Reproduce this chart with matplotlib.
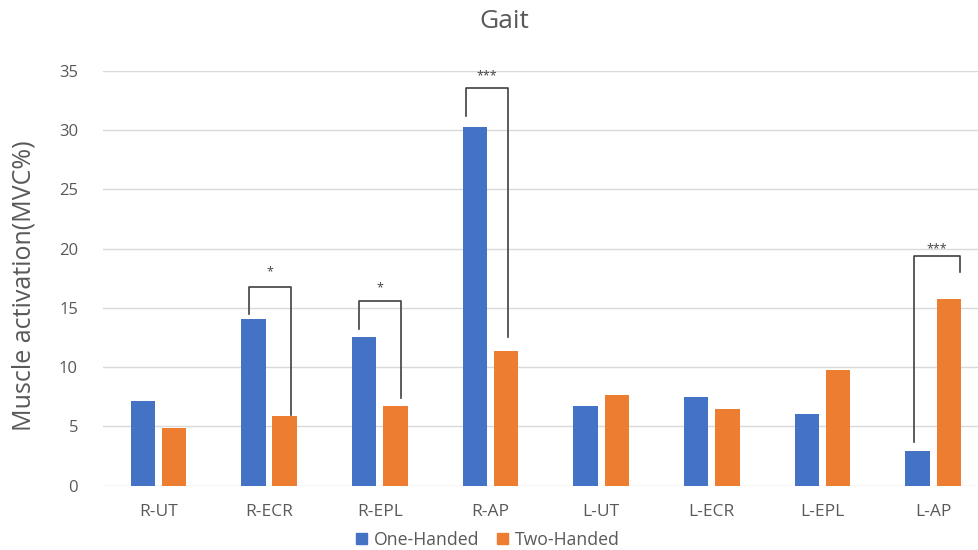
import matplotlib
matplotlib.use("Agg")
import matplotlib.pyplot as plt
import numpy as np
from matplotlib.patches import Patch

plt.rcParams['font.family'] = ['Open Sans', 'DejaVu Sans']

categories = ["R-UT", "R-ECR", "R-EPL", "R-AP", "L-UT", "L-ECR", "L-EPL", "L-AP"]
one_handed = [7.17, 14.08, 12.54, 30.27, 6.75, 7.45, 6.07, 2.95]
two_handed = [4.84, 5.88, 6.75, 11.38, 7.62, 6.50, 9.78, 15.74]
yticks = [0, 5, 10, 15, 20, 25, 30, 35]

# significance brackets: category index, left/right x offset, top, left bottom, right bottom, label, label y
sig_idx = [1, 2, 3, 7]
sig_left = [-0.18, -0.19, -0.22, -0.17]
sig_right = [0.20, 0.19, 0.16, 0.24]
sig_top = [16.8, 15.57, 33.53, 19.39]
sig_lbot = [14.48, 13.19, 31.17, 3.71]
sig_rbot = [5.96, 7.42, 12.51, 18.0]
sig_label = ["*", "*", "***", "***"]
sig_label_y = [18.0, 16.7, 34.6, 20.0]

blue = "#4472C4"
orange = "#ED7D31"
txt = "#595959"

W, H = 979, 550
fig = plt.figure(figsize=(W / 100, H / 100), dpi=100)
left_px, right_px = 103.0, 979.0
cat_px = 110.7
ax = fig.add_axes([left_px / W, 64.3 / H, (right_px - left_px) / W, 415 / H])

x = np.arange(len(categories))
bw = 0.221
off = 0.141
ax.bar(x - off, one_handed, bw, color=blue, zorder=3)
ax.bar(x + off, two_handed, bw, color=orange, zorder=3)

for i, l, r, t, lb, rb, lab, ly in zip(sig_idx, sig_left, sig_right, sig_top, sig_lbot, sig_rbot, sig_label, sig_label_y):
    ax.plot([i + l, i + l, i + r, i + r], [lb, t, t, rb], color="#404040", lw=1.2, zorder=4, clip_on=False)
    ax.text(i + (l + r) / 2, ly, lab, ha="center", va="center", fontsize=9, color="#404040", clip_on=False)

ax.set_xlim(-0.5, -0.5 + (right_px - left_px) / cat_px)
ax.set_ylim(0, 35)
ax.set_yticks(yticks)
ax.set_xticks(x)
ax.set_xticklabels(categories)
ax.tick_params(axis='both', length=0, colors=txt, labelsize=12.5)
ax.tick_params(axis='y', pad=18, labelsize=12)
ax.tick_params(axis='x', pad=13)
ax.yaxis.grid(True, color="#D9D9D9", lw=1, zorder=0)
for s in ax.spines.values():
    s.set_visible(False)

fig.text(24 / W, 1 - 286 / H, "Muscle activation(MVC%)", rotation=90, ha="center", va="center",
         fontsize=18, color=txt)
fig.text(504 / W, 1 - 22 / H, "Gait", ha="center", va="center", fontsize=19, color=txt)

handles = [Patch(color=blue, label="One-Handed"), Patch(color=orange, label="Two-Handed")]
fig.legend(handles=handles, loc="center", bbox_to_anchor=(488 / W, 1 - 540 / H), ncol=2, frameon=False,
           fontsize=12.7, labelcolor=txt, handlelength=0.6, handleheight=0.6, handletextpad=0.4,
           columnspacing=1.0)

fig.savefig("out.png", dpi=100)
